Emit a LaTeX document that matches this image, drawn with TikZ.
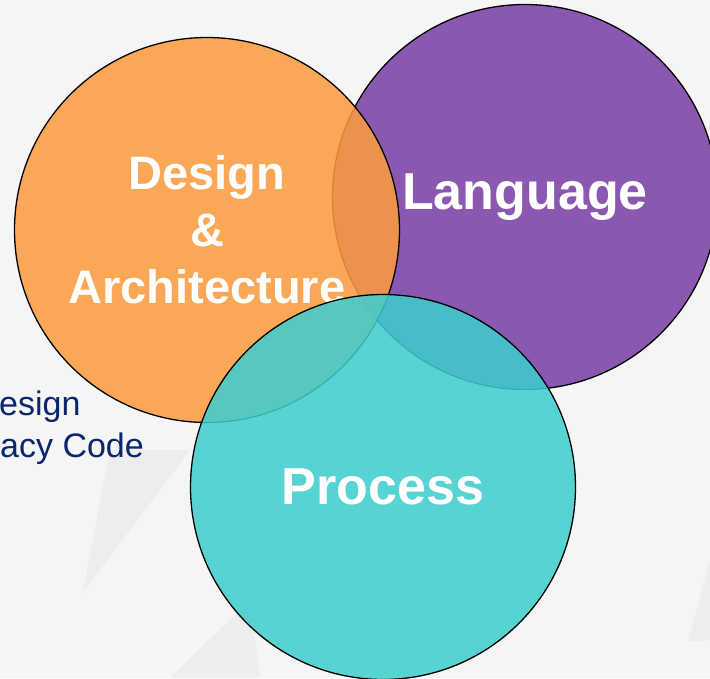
\documentclass[tikz,border=0pt]{standalone}
\usepackage{fontspec}
\setsansfont{Liberation Sans}
\usetikzlibrary{positioning}

\definecolor{designcolor}{RGB}{251,156,62}
\definecolor{languagecolor}{RGB}{138,88,176}
\definecolor{processcolor}{RGB}{62,206,207}
\definecolor{notecolor}{RGB}{10,38,110}
\definecolor{bgcolor}{RGB}{245,245,245}
\definecolor{streakcolor}{RGB}{237,237,237}

\tikzset{
  %% area : one of the three overlapping circles
  area/.style={
    circle,
    draw=black,
    line width=1.3pt,
    fill opacity=0.86,
    text opacity=1,
    minimum size=385pt,
    inner sep=0pt,
    text=white,
    align=center,
    font=\sffamily\bfseries
  },
  %% note : the text running in from the left border
  note/.style={
    anchor=base west,
    inner sep=0pt,
    text=notecolor,
    font=\sffamily\fontsize{34}{40}\selectfont
  },
  %% streak : faint shading in the background
  streak/.style={fill=streakcolor}
}

\begin{document}
\begin{tikzpicture}
  [x=1pt,
  y=-1pt]

  \useasboundingbox (0, 0) rectangle (710, 678);
  \clip (0, 0) rectangle (710, 678);

  %% Background
  \fill [bgcolor] (0, 0) rectangle (710, 678);
  \fill [streak] (83, 592) -- (110, 450) -- (190, 450) -- cycle;
  \fill [streak] (170, 678) -- (250, 600) -- (260, 678) -- cycle;
  \fill [streak] (688, 642) -- (710, 560) -- (710, 640) -- cycle;

  %% Text coming in from the left
  \node (notedesign) [note] at (-1, 415) {esign};
  \node (notecode) [note] at (0, 457) {acy Code};

  %% The three circles, back to front (the back one is solid)
  \node (language) [area, fill=languagecolor, fill opacity=1,
    font=\sffamily\bfseries\fontsize{52}{60}\selectfont] at (525, 197) {%
    Language%
  };

  \node (design) [area, fill=designcolor,
    font=\sffamily\bfseries\fontsize{47}{57}\selectfont] at (207, 230) {%
    Design\\
    \&\\
    Architecture%
  };

  \node (process) [area, fill=processcolor,
    font=\sffamily\bfseries\fontsize{52}{60}\selectfont] at (383, 487) {%
    \raisebox{-3pt}{Process}%
  };

\end{tikzpicture}
\end{document}
